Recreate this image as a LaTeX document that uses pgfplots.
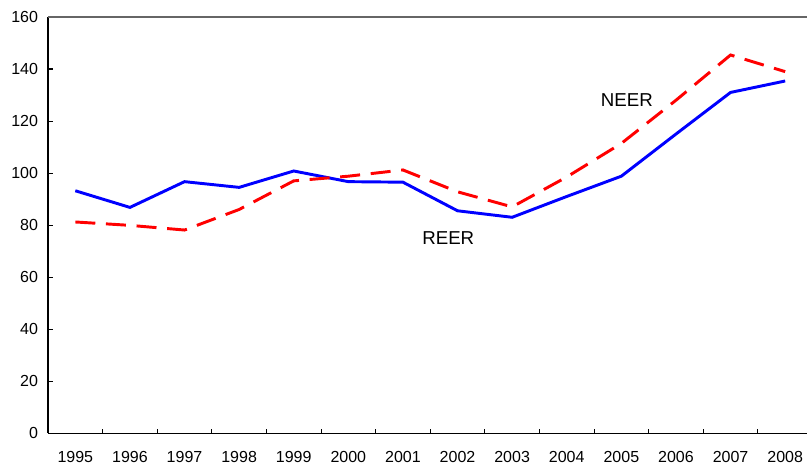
\documentclass[border=0pt]{standalone}
\usepackage{pgfplots}
\pgfplotsset{compat=1.18}
\usepackage{fontspec}
\setmainfont{Liberation Sans}
\begin{document}
\begin{tikzpicture}
\begin{axis}[
  scale only axis,
  width=569pt, height=312pt,
  xmin=-0.5, xmax=13.4,
  ymin=0, ymax=160,
  axis lines=left,
  axis line style={line width=1pt, -},
  xtick={0,...,13},
  xticklabels={1995,1996,1997,1998,1999,2000,2001,2002,2003,2004,2005,2006,2007,2008},
  major x tick style={draw=none},
  minor xtick={0.5,1.5,...,12.5},
  minor x tick style={black, line width=0.8pt},
  minor tick length=3.5pt,
  ytick={0,20,...,160},
  y tick style={black, line width=0.8pt},
  major tick length=3.5pt,
  tick align=inside,
  extra y ticks={160},
  extra y tick labels={},
  extra y tick style={grid=major, major grid style={draw=black!60, line width=0.9pt}, y tick style={draw=none}},
  tick label style={font=\fontsize{12}{14}\selectfont},
  /pgf/number format/assume math mode=true,
  xticklabel style={yshift=-10pt},
  yticklabel style={xshift=-4pt},
  clip=false,
]
\addplot[blue, line width=2.2pt] coordinates {
(0,93.2) (1,86.8) (2,96.7) (3,94.5) (4,100.8) (5,96.7) (6,96.5) (7,85.5) (8,83.0) (9,91.0) (10,98.8) (11,115.0) (12,131.0) (13,135.4)};
\addplot[red, line width=2.2pt, dash pattern=on 15pt off 8pt] coordinates {
(0,81.2) (1,79.9) (2,78.1) (3,86.0) (4,97.0) (5,98.8) (6,101.2) (7,92.8) (8,87.0) (9,98.5) (10,111.4) (11,128.0) (12,145.4) (13,139.0)};
\node[font=\fontsize{14}{16}\selectfont] at (axis cs:10.1,128) {NEER};
\node[font=\fontsize{14}{16}\selectfont] at (axis cs:6.83,75) {REER};
\end{axis}
\pgfresetboundingbox
\path (current axis.south west) ++(-36pt,-24pt) rectangle ([yshift=12.75pt]current axis.north east);
\end{tikzpicture}
\end{document}
